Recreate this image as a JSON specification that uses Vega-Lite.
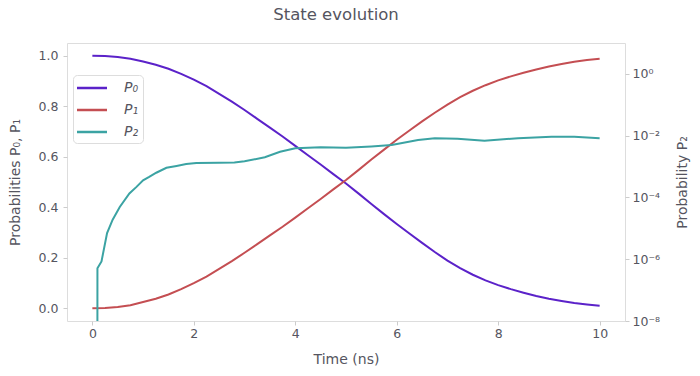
{
  "$schema": "https://vega.github.io/schema/vega-lite/v6.json",
  "width": 558,
  "height": 278,
  "autosize": {"type": "none"},
  "padding": {"left": 67, "top": 43, "right": 75, "bottom": 55},
  "title": {"text": "State evolution", "fontSize": 16.5, "font": "DejaVu Sans", "fontWeight": "normal", "color": "#555560", "offset": 20, "dx": -10},
  "config": {
    "font": "DejaVu Sans",
    "view": {"stroke": "#dddddd", "strokeWidth": 1},
    "axis": {"labelFont": "DejaVu Sans", "titleFont": "DejaVu Sans", "labelFontSize": 12.5, "titleFontSize": 14, "labelColor": "#555560", "titleColor": "#555560", "titleFontWeight": "normal", "grid": false, "domain": false, "tickColor": "#cccccc", "tickSize": 4}
  },
  "datasets": {
    "main": [
      {"t":0,"s":"P₀","v":1.0},{"t":0.25,"s":"P₀","v":0.9986},{"t":0.5,"s":"P₀","v":0.995},{"t":0.75,"s":"P₀","v":0.988},{"t":1,"s":"P₀","v":0.977},{"t":1.25,"s":"P₀","v":0.964},{"t":1.5,"s":"P₀","v":0.948},{"t":1.75,"s":"P₀","v":0.928},{"t":2,"s":"P₀","v":0.905},{"t":2.25,"s":"P₀","v":0.879},{"t":2.5,"s":"P₀","v":0.849},{"t":2.75,"s":"P₀","v":0.818},{"t":3,"s":"P₀","v":0.785},{"t":3.25,"s":"P₀","v":0.75},{"t":3.5,"s":"P₀","v":0.715},{"t":3.75,"s":"P₀","v":0.68},{"t":4,"s":"P₀","v":0.643},{"t":4.25,"s":"P₀","v":0.606},{"t":4.5,"s":"P₀","v":0.569},{"t":4.75,"s":"P₀","v":0.531},{"t":5,"s":"P₀","v":0.494},{"t":5.25,"s":"P₀","v":0.454},{"t":5.5,"s":"P₀","v":0.413},{"t":5.75,"s":"P₀","v":0.373},{"t":6,"s":"P₀","v":0.334},{"t":6.25,"s":"P₀","v":0.296},{"t":6.5,"s":"P₀","v":0.259},{"t":6.75,"s":"P₀","v":0.223},{"t":7,"s":"P₀","v":0.189},{"t":7.25,"s":"P₀","v":0.159},{"t":7.5,"s":"P₀","v":0.133},{"t":7.75,"s":"P₀","v":0.111},{"t":8,"s":"P₀","v":0.092},{"t":8.25,"s":"P₀","v":0.076},{"t":8.5,"s":"P₀","v":0.062},{"t":8.75,"s":"P₀","v":0.049},{"t":9,"s":"P₀","v":0.038},{"t":9.25,"s":"P₀","v":0.029},{"t":9.5,"s":"P₀","v":0.021},{"t":9.75,"s":"P₀","v":0.015},{"t":10,"s":"P₀","v":0.01},
      {"t":0,"s":"P₁","v":0.0},{"t":0.25,"s":"P₁","v":0.0014},{"t":0.5,"s":"P₁","v":0.005},{"t":0.75,"s":"P₁","v":0.012},{"t":1,"s":"P₁","v":0.025},{"t":1.25,"s":"P₁","v":0.038},{"t":1.5,"s":"P₁","v":0.055},{"t":1.75,"s":"P₁","v":0.076},{"t":2,"s":"P₁","v":0.1},{"t":2.25,"s":"P₁","v":0.126},{"t":2.5,"s":"P₁","v":0.156},{"t":2.75,"s":"P₁","v":0.187},{"t":3,"s":"P₁","v":0.22},{"t":3.25,"s":"P₁","v":0.254},{"t":3.5,"s":"P₁","v":0.289},{"t":3.75,"s":"P₁","v":0.323},{"t":4,"s":"P₁","v":0.359},{"t":4.25,"s":"P₁","v":0.396},{"t":4.5,"s":"P₁","v":0.433},{"t":4.75,"s":"P₁","v":0.471},{"t":5,"s":"P₁","v":0.508},{"t":5.25,"s":"P₁","v":0.548},{"t":5.5,"s":"P₁","v":0.589},{"t":5.75,"s":"P₁","v":0.628},{"t":6,"s":"P₁","v":0.667},{"t":6.25,"s":"P₁","v":0.704},{"t":6.5,"s":"P₁","v":0.74},{"t":6.75,"s":"P₁","v":0.774},{"t":7,"s":"P₁","v":0.806},{"t":7.25,"s":"P₁","v":0.836},{"t":7.5,"s":"P₁","v":0.861},{"t":7.75,"s":"P₁","v":0.883},{"t":8,"s":"P₁","v":0.902},{"t":8.25,"s":"P₁","v":0.918},{"t":8.5,"s":"P₁","v":0.932},{"t":8.75,"s":"P₁","v":0.945},{"t":9,"s":"P₁","v":0.957},{"t":9.25,"s":"P₁","v":0.967},{"t":9.5,"s":"P₁","v":0.976},{"t":9.75,"s":"P₁","v":0.983},{"t":10,"s":"P₁","v":0.988}
    ],
    "p2": [
      {"t":0.099,"v":1e-10},{"t":0.1,"v":5.1e-7},{"t":0.18,"v":8.5e-7},{"t":0.29,"v":7.0e-6},{"t":0.4,"v":1.9e-5},{"t":0.54,"v":4.9e-5},{"t":0.73,"v":1.35e-4},{"t":0.87,"v":2.2e-4},{"t":1.0,"v":3.6e-4},{"t":1.12,"v":4.6e-4},{"t":1.26,"v":6.3e-4},{"t":1.46,"v":9.1e-4},{"t":1.66,"v":1.05e-3},{"t":1.85,"v":1.2e-3},{"t":2.05,"v":1.3e-3},{"t":2.5,"v":1.32e-3},{"t":2.8,"v":1.35e-3},{"t":3.0,"v":1.48e-3},{"t":3.4,"v":2.0e-3},{"t":3.7,"v":3.0e-3},{"t":4.0,"v":3.9e-3},{"t":4.5,"v":4.2e-3},{"t":5.0,"v":4.1e-3},{"t":5.5,"v":4.5e-3},{"t":5.9,"v":5.0e-3},{"t":6.42,"v":7.2e-3},{"t":6.75,"v":8.3e-3},{"t":7.2,"v":7.9e-3},{"t":7.73,"v":6.8e-3},{"t":8.39,"v":8.3e-3},{"t":9.05,"v":9.3e-3},{"t":9.5,"v":9.2e-3},{"t":10.0,"v":8.3e-3}
    ]
  },
  "layer": [
    {
      "data": {"name": "main"},
      "mark": {"type": "line", "strokeWidth": 2, "clip": true},
      "encoding": {
        "x": {"field": "t", "type": "quantitative", "scale": {"domain": [-0.5, 10.5], "nice": false, "zero": false},
              "axis": {"values": [0, 2, 4, 6, 8, 10], "format": "d", "title": "Time (ns)", "labelPadding": 2, "titlePadding": 13}},
        "y": {"field": "v", "type": "quantitative", "scale": {"domain": [-0.05, 1.05], "nice": false, "zero": false},
              "axis": {"values": [0, 0.2, 0.4, 0.6, 0.8, 1.0], "format": ".1f", "title": "Probabilities P₀, P₁", "labelPadding": 5, "titlePadding": 16}},
        "color": {"field": "s", "type": "nominal",
                  "scale": {"domain": ["P₀", "P₁", "P₂"], "range": ["#5b22c9", "#c44e52", "#3ba3a3"]},
                  "legend": {"orient": "none", "legendX": 6, "legendY": 32, "title": null, "symbolType": "M-2,0H2", "symbolSize": 225, "symbolStrokeWidth": 2.5, "labelFontSize": 14, "labelFontStyle": "italic", "labelFont": "DejaVu Sans", "labelColor": "#555560", "fillColor": "white", "strokeColor": "#dddddd", "cornerRadius": 4, "padding": 4, "rowPadding": 6, "symbolOffset": 6, "labelOffset": 23}}
      }
    },
    {
      "data": {"name": "p2"},
      "mark": {"type": "line", "strokeWidth": 2, "clip": true},
      "encoding": {
        "x": {"field": "t", "type": "quantitative"},
        "y": {"field": "v", "type": "quantitative", "scale": {"type": "log", "domain": [1e-8, 10], "nice": false},
              "axis": {"orient": "right", "values": [1e-8, 1e-6, 1e-4, 1e-2, 1], "title": "Probability P₂", "titleAngle": 270, "labelPadding": 3, "titlePadding": 30,
                       "labelExpr": "round(log(datum.value)/LN10) == 0 ? '10⁰' : round(log(datum.value)/LN10) == -2 ? '10⁻²' : round(log(datum.value)/LN10) == -4 ? '10⁻⁴' : round(log(datum.value)/LN10) == -6 ? '10⁻⁶' : '10⁻⁸'"}},
        "color": {"datum": "P₂"}
      }
    }
  ],
  "resolve": {"scale": {"y": "independent"}}
}
